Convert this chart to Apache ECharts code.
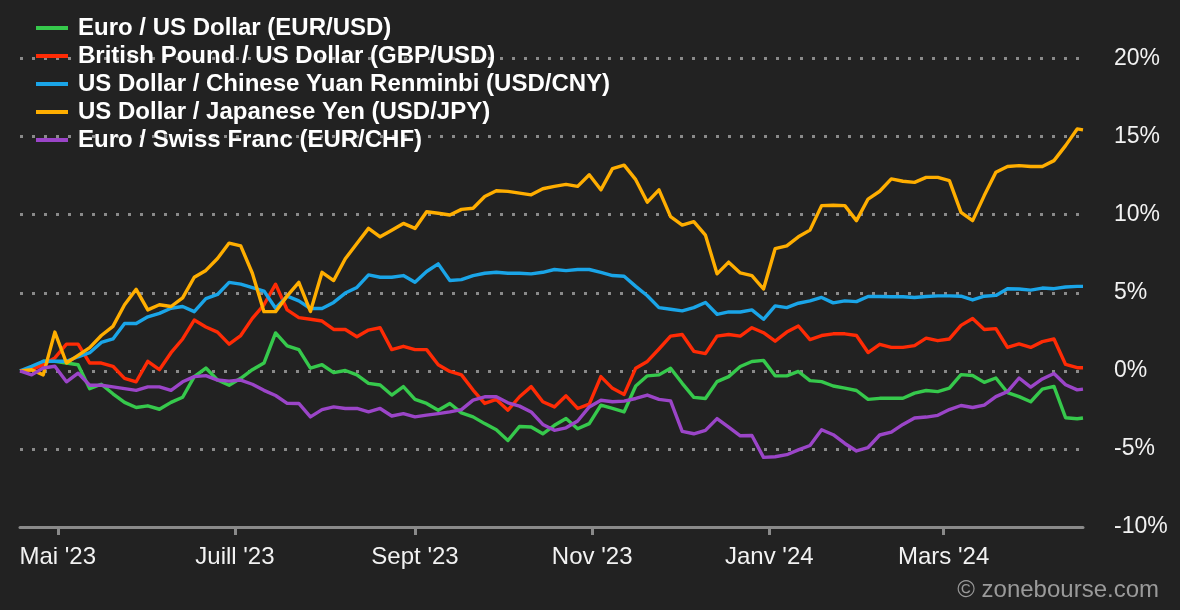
<!DOCTYPE html>
<html>
<head>
<meta charset="utf-8">
<title>Devises - 1 an</title>
<script src="https://cdn.jsdelivr.net/npm/echarts@6/dist/echarts.min.js"></script>
<style>
    html, body { margin: 0; padding: 0; background: #222222; }
    #fxChart { width: 1180px; height: 610px; }
</style>
</head>
<body>
<div id="fxChart"></div>
<script>
// période affichée et pas d'échantillonnage (jours)
var startDay = Date.UTC(2023, 3, 18);
var totalDays = 366;
var step = 4;

var monthNames = ['Janv', 'Févr', 'Mars', 'Avr', 'Mai', 'Juin', 'Juill', 'Août', 'Sept', 'Oct', 'Nov', 'Déc'];
var labelMonths = [1, 3, 5, 7, 9, 11];

var seriesNames = [
    'Euro / US Dollar (EUR/USD)',
    'British Pound / US Dollar (GBP/USD)',
    'US Dollar / Chinese Yuan Renminbi (USD/CNY)',
    'US Dollar / Japanese Yen (USD/JPY)',
    'Euro / Swiss Franc (EUR/CHF)'
];
var seriesColors = ['#36c94c', '#ff2b05', '#1aa5e8', '#ffae00', '#9b45c8'];

// variation en % (un point tous les 4 jours + dernier jour)
var eurUsd = [0, 0.07, 0.61, 0.61, 0.5, 0.39, -1.14, -0.86, -1.47, -2.02, -2.35, -2.24, -2.46, -2.02, -1.69, -0.37, 0.18, -0.59, -0.92, -0.48, 0.07, 0.5, 2.43, 1.6,
    1.36, 0.17, 0.39, -0.11, 0.02, -0.26, -0.8, -0.91, -1.55, -1.01, -1.83, -2.09, -2.52, -2.09, -2.69, -2.95, -3.38, -3.77, -4.46, -3.56, -3.6, -4.03, -3.49, -3.05,
    -3.71, -3.38, -2.2, -2.41, -2.63, -0.97, -0.32, -0.26, 0.17, -0.8, -1.7, -1.77, -0.69, -0.37, 0.28, 0.6, 0.67, -0.32, -0.32, -0.04, -0.63, -0.69, -0.97,
    -1.11, -1.26, -1.83, -1.76, -1.76, -1.76, -1.43, -1.26, -1.33, -1.11, -0.24, -0.3, -0.74, -0.46, -1.39, -1.65, -1.98, -1.17, -1.0, -3.0, -3.07, -3.02];

var gbpUsd = [0, 0.07, 0.39, 0.83, 1.71, 1.71, 0.5, 0.5, 0.29, -0.48, -0.7, 0.61, 0.07, 1.16, 2.04, 3.25, 2.81, 2.48, 1.71, 2.26, 3.36, 4.23, 5.55, 3.9,
    3.41, 3.3, 3.19, 2.65, 2.65, 2.18, 2.61, 2.76, 1.36, 1.57, 1.36, 1.36, 0.39, -0.04, -0.26, -1.23, -2.09, -1.83, -2.52, -1.66, -1.01, -1.98, -2.31, -1.6,
    -2.41, -2.13, -0.37, -1.12, -1.51, 0.17, 0.6, 1.4, 2.22, 2.33, 1.25, 1.1, 2.22, 2.33, 2.22, 2.76, 2.44, 1.9, 2.48, 2.87, 2.0, 2.26, 2.37,
    2.37, 2.26, 1.17, 1.7, 1.5, 1.5, 1.61, 2.09, 1.93, 2.04, 2.91, 3.35, 2.65, 2.7, 1.5, 1.72, 1.5, 1.87, 2.04, 0.41, 0.2, 0.2];

var usdCny = [0, 0.29, 0.61, 0.61, 0.61, 0.9, 1.16, 1.82, 2.04, 3.03, 3.03, 3.46, 3.68, 4.01, 4.12, 3.79, 4.63, 4.89, 5.66, 5.55, 5.33, 5.11, 4.01, 4.78,
    4.48, 3.99, 3.99, 4.38, 4.98, 5.34, 6.14, 5.99, 5.99, 6.1, 5.67, 6.36, 6.85, 5.78, 5.84, 6.1, 6.25, 6.31, 6.25, 6.25, 6.21, 6.31, 6.49, 6.42,
    6.49, 6.49, 6.31, 6.1, 6.06, 5.41, 4.81, 4.05, 3.94, 3.84, 4.05, 4.38, 3.62, 3.77, 3.77, 3.9, 3.3, 4.16, 4.05, 4.33, 4.48, 4.7, 4.35,
    4.48, 4.43, 4.76, 4.76, 4.74, 4.74, 4.7, 4.76, 4.8, 4.8, 4.78, 4.54, 4.78, 4.83, 5.26, 5.24, 5.17, 5.3, 5.26, 5.37, 5.41, 5.41];

var usdJpy = [0, 0.07, -0.26, 2.48, 0.5, 0.99, 1.49, 2.26, 2.85, 4.23, 5.22, 3.9, 4.23, 4.12, 4.67, 5.99, 6.43, 7.19, 8.18, 8.0, 6.25, 3.79, 3.79, 4.8,
    5.67, 3.8, 6.31, 5.78, 7.18, 8.15, 9.12, 8.58, 9.0, 9.44, 9.12, 10.19, 10.09, 9.98, 10.34, 10.41, 11.16, 11.53, 11.49, 11.38, 11.27, 11.66, 11.81, 11.94,
    11.81, 12.56, 11.59, 12.95, 13.17, 12.24, 10.8, 11.59, 9.87, 9.33, 9.55, 8.69, 6.21, 6.96, 6.27, 6.1, 5.24, 7.82, 8.0, 8.58, 9.01, 10.58, 10.6,
    10.58, 9.62, 11.0, 11.5, 12.29, 12.14, 12.07, 12.39, 12.39, 12.18, 10.15, 9.62, 11.22, 12.71, 13.08, 13.14, 13.08, 13.08, 13.46, 14.42, 15.49, 15.43];

var eurChf = [0, -0.26, 0.18, 0.29, -0.7, -0.15, -0.92, -0.92, -1.03, -1.14, -1.25, -1.03, -1.03, -1.25, -0.7, -0.37, -0.31, -0.59, -0.66, -0.59, -0.86, -1.25, -1.58, -2.08,
    -2.09, -2.95, -2.48, -2.31, -2.41, -2.41, -2.63, -2.41, -2.89, -2.74, -2.95, -2.84, -2.74, -2.63, -2.48, -1.88, -1.66, -1.66, -2.05, -2.26, -2.63, -3.43, -3.81, -3.65,
    -3.21, -2.31, -1.88, -1.98, -1.94, -1.77, -1.55, -1.83, -1.92, -3.88, -4.03, -3.81, -3.06, -3.6, -4.16, -4.14, -5.54, -5.5, -5.37, -5.06, -4.78, -3.77, -4.09,
    -4.65, -5.13, -4.91, -4.11, -3.93, -3.43, -3.02, -2.96, -2.85, -2.48, -2.22, -2.35, -2.2, -1.65, -1.33, -0.46, -1.04, -0.52, -0.17, -0.89, -1.22, -1.17];

var allValues = [eurUsd, gbpUsd, usdCny, usdJpy, eurChf];

function dayString(n) {
    var d = new Date(startDay + n * 86400000);
    var m = d.getUTCMonth() + 1, dd = d.getUTCDate();
    return d.getUTCFullYear() + '-' + (m < 10 ? '0' + m : m) + '-' + (dd < 10 ? '0' + dd : dd);
}

// catégories : tous les jours de la période
var days = [];
for (var i = 0; i <= totalDays; i++) {
    days.push(dayString(i));
}

// jours des points
var sampleDays = [];
for (var k = 0; k * step < totalDays; k++) {
    sampleDays.push(dayString(k * step));
}
sampleDays.push(dayString(totalDays));

function isLabelDay(index, value) {
    var p = value.split('-');
    return p[2] === '01' && labelMonths.indexOf(+p[1]) >= 0;
}

var dom = document.getElementById('fxChart');
var myChart = echarts.init(dom);

var series = seriesNames.map(function(name, s) {
    return {
        name: name,
        type: 'line',
        showSymbol: false,
        smooth: false,
        lineStyle: { width: 3.4, color: seriesColors[s], join: 'round' },
        itemStyle: { color: seriesColors[s] },
        data: sampleDays.map(function(d, j) {
            return [d, allValues[s][j]];
        })
    };
});

var option = {
    backgroundColor: '#222222',
    animation: false,
    textStyle: { fontFamily: "'Liberation Sans', Arial, sans-serif" },
    legend: {
        orient: 'vertical',
        left: 31,
        top: 11,
        icon: 'rect',
        itemWidth: 32,
        itemHeight: 4,
        itemGap: 4,
        textStyle: {
            color: '#ffffff',
            fontSize: 24,
            fontWeight: 'bold',
            lineHeight: 24,
            padding: [0, 0, 0, 5]
        },
        data: seriesNames
    },
    grid: {
        left: 20,
        right: 97,
        top: 58.5,
        bottom: 83
    },
    xAxis: {
        type: 'category',
        data: days,
        boundaryGap: false,
        axisLine: { onZero: false, lineStyle: { color: '#8a8a8a', width: 3 } },
        axisTick: {
            interval: isLabelDay,
            length: 8,
            lineStyle: { color: '#8a8a8a', width: 3 }
        },
        axisLabel: {
            interval: isLabelDay,
            color: '#f2f2f2',
            fontSize: 24,
            margin: 18,
            formatter: function(value) {
                var p = value.split('-');
                return monthNames[+p[1] - 1] + " '" + p[0].slice(2);
            }
        },
        splitLine: { show: false }
    },
    yAxis: {
        type: 'value',
        position: 'right',
        min: -10,
        max: 20,
        interval: 5,
        axisLine: { show: false },
        axisTick: { show: false },
        axisLabel: {
            color: '#f2f2f2',
            fontSize: 23,
            margin: 31,
            formatter: '{value}%'
        },
        splitLine: {
            lineStyle: { color: '#8a8a8a', width: 3, type: [3, 9] }
        }
    },
    graphic: [{
        type: 'text',
        right: 21,
        top: 578,
        style: {
            text: '© zonebourse.com',
            fill: '#9a9a9a',
            font: "24px 'Liberation Sans', Arial, sans-serif"
        }
    }],
    series: series
};

if (option && typeof option === "object") {
    myChart.setOption(option, true);
}

window.addEventListener("resize", function() {
    myChart.resize();
});
</script>
</body>
</html>
